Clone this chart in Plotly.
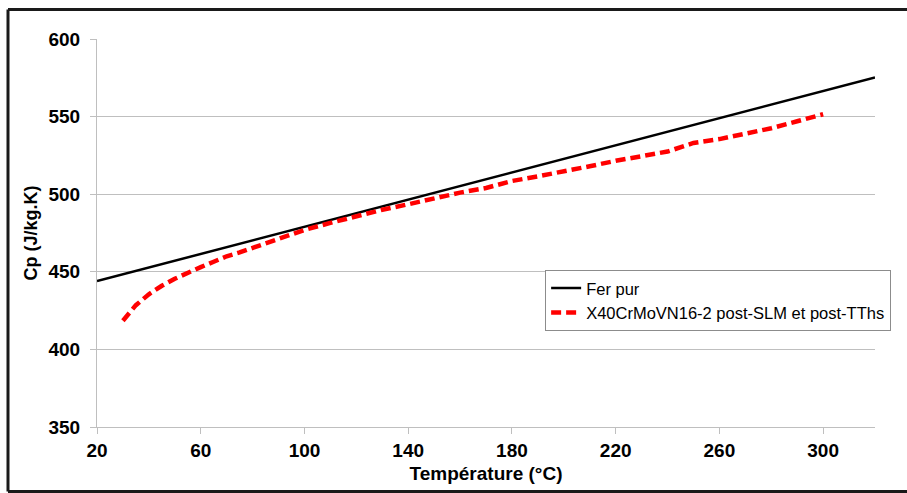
import plotly.graph_objects as go

# Fer pur (linear reference)
fer_temp = [20, 60, 100, 140, 180, 220, 260, 300, 320]
fer_cp = [444.0, 461.5, 479.0, 496.5, 514.0, 531.5, 549.0, 566.5, 575.2]

# X40CrMoVN16-2 post-SLM et post-TThs
x40_temp = [30, 35, 40, 45, 50, 55, 60, 65, 70, 75, 80, 85, 90, 95, 100,
            110, 120, 130, 140, 150, 160, 170, 180, 190, 200, 210, 220,
            230, 240, 250, 260, 270, 280, 290, 300]
x40_cp = [418.5, 428.5, 435.5, 441.0, 445.5, 449.5, 453.0, 456.5, 460.0, 462.5,
          465.5, 468.5, 471.5, 474.5, 477.0, 481.5, 486.0, 490.0, 493.5, 497.5,
          501.0, 504.0, 508.5, 511.5, 514.5, 518.0, 521.5, 524.5, 527.5, 533.0,
          535.5, 539.0, 542.5, 547.0, 551.5]

x_ticks = [20, 60, 100, 140, 180, 220, 260, 300]
y_ticks = [350, 400, 450, 500, 550, 600]

FONT = "Arial, 'Liberation Sans', sans-serif"
GRID = "#bfbfbf"
FRAME = dict(color="#1a1a1a", width=3)

fig = go.Figure()
fig.add_trace(go.Scatter(x=fer_temp, y=fer_cp, mode="lines", name="Fer pur",
                         line=dict(color="black", width=2.5)))
fig.add_trace(go.Scatter(x=x40_temp, y=x40_cp, mode="lines",
                         name="X40CrMoVN16-2 post-SLM et post-TThs",
                         line=dict(color="#ff0000", width=4.5, dash="10px,5px")))

fig.update_layout(
    width=907, height=493,
    margin=dict(l=97, r=32, t=39, b=66),
    paper_bgcolor="white", plot_bgcolor="white",
    font=dict(family=FONT, color="black"),
    legend=dict(x=0.576, y=0.405, xanchor="left", yanchor="top",
                bgcolor="white", bordercolor="#8c8c8c", borderwidth=1,
                font=dict(size=16.5, family=FONT), tracegroupgap=0,
                itemwidth=30),
    xaxis=dict(range=[20, 320], tickvals=x_ticks, ticktext=[str(v) for v in x_ticks],
               showgrid=False, zeroline=False, showline=True, linecolor=GRID, linewidth=1,
               ticks="outside", ticklen=6, tickcolor=GRID,
               tickfont=dict(size=19, family=FONT, weight="bold"),
               title=dict(text="<b>Température (°C)</b>", font=dict(size=19, family=FONT),
                          standoff=6)),
    yaxis=dict(range=[350, 600], tickvals=y_ticks,
               showgrid=True, gridcolor=GRID, gridwidth=1, zeroline=False,
               showline=True, linecolor=GRID, linewidth=1,
               ticks="outside", ticklen=6, tickcolor=GRID, ticklabelstandoff=6,
               tickfont=dict(size=19, family=FONT, weight="bold"),
               title=dict(text="<b>Cp (J/kg.K)</b>", font=dict(size=18, family=FONT),
                          standoff=6)),
    shapes=[
        dict(type="line", xref="paper", yref="paper", x0=-0.1144, x1=-0.1144,
             y0=-0.1662, y1=1.076, line=FRAME, layer="above"),
        dict(type="line", xref="paper", yref="paper", x0=-0.1144, x1=1.5,
             y0=1.076, y1=1.076, line=FRAME, layer="above"),
        dict(type="line", xref="paper", yref="paper", x0=-0.1144, x1=1.5,
             y0=-0.1662, y1=-0.1662, line=FRAME, layer="above"),
    ],
)

fig.write_html(
    "out.html",
    config={"displayModeBar": False},
    post_script="document.body.style.margin='0';document.body.style.overflow='hidden';",
)
